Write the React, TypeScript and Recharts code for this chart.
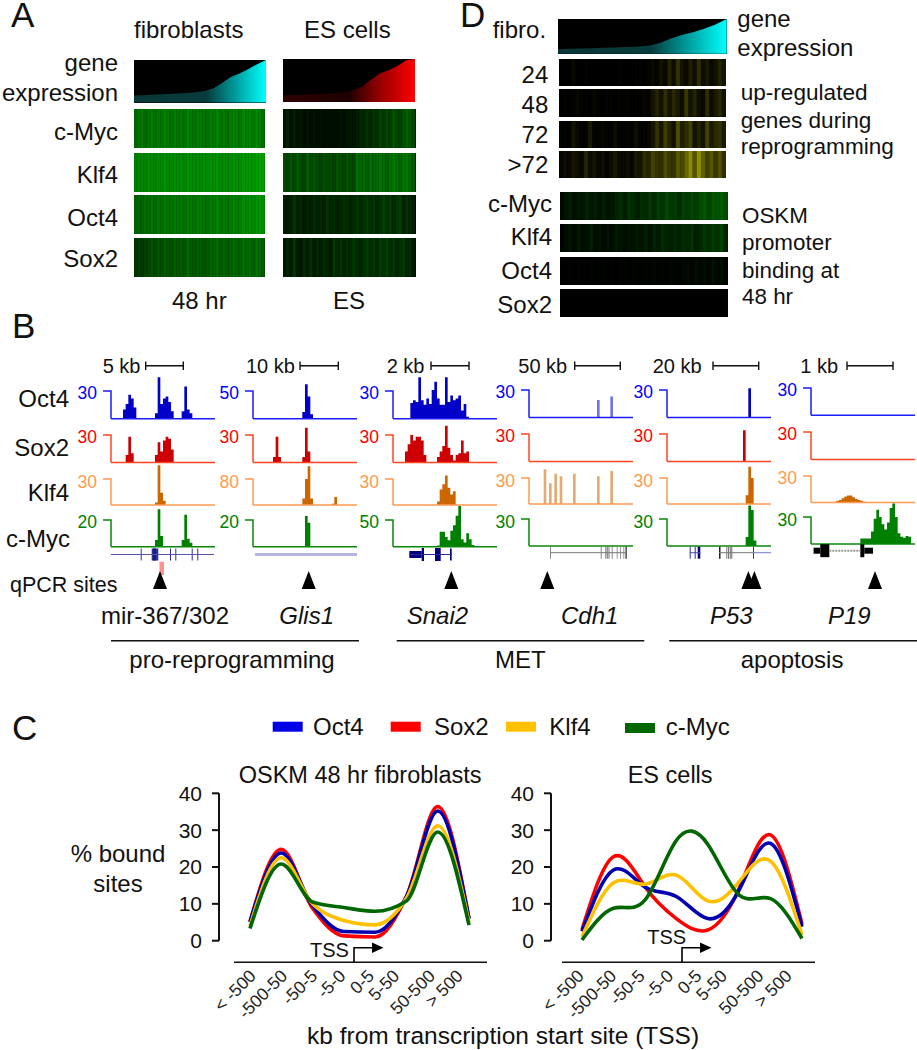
import {
  Area,
  AreaChart,
  Bar,
  BarChart,
  Cell,
  ComposedChart,
  Line,
  LineChart,
  ReferenceArea,
  ReferenceDot,
  ReferenceLine,
  XAxis,
  YAxis,
} from "recharts"

const FONT = "'Liberation Sans', Arial, sans-serif"

// panel C: % bound sites per distance bin
const tssBins = ["< -500", "-500-50", "-50-5", "-5-0", "0-5", "5-50", "50-500", "> 500"]
const fibOct4 = [5, 23.8, 9.5, 2.5, 2.3, 12, 35.2, 6]
const fibSox2 = [5.2, 24.8, 8.8, 1.3, 1, 12, 36.4, 6]
const fibKlf4 = [4, 22.5, 10, 5.5, 4.3, 11.5, 31.2, 5]
const fibMyc = [3.3, 20.8, 10.5, 9, 8, 10.8, 29.5, 4.2]
const esOct4 = [2.5, 19.2, 14.6, 12, 6, 13.8, 26.4, 3.8]
const esSox2 = [3, 22.8, 14.7, 6, 2.9, 14.2, 28.7, 4.5]
const esKlf4 = [1, 15.7, 15.3, 17.8, 10.8, 16, 21.6, 1.5]
const esMyc = [0.2, 8.8, 11, 27.2, 26.2, 12.4, 11.4, 0.6]

// panel B: coverage tracks, 40 bins per locus
const emptyTrack = [0, 0]
const mirOct4 = [0, 0, 0, 0, 0, 10, 16, 26, 22, 12, 0, 0, 0, 0, 0, 0, 0, 6, 45, 16,
  22, 24, 18, 8, 0, 0, 0, 8, 35, 10, 6, 0, 0, 0, 0, 0, 0, 0, 0, 0]
const mirSox2 = [0, 0, 0, 0, 0, 0, 8, 28, 10, 0, 0, 0, 0, 0, 0, 0, 0, 8, 22, 12,
  24, 28, 26, 14, 0, 0, 0, 0, 0, 0, 0, 0, 0, 0, 0, 0, 0, 0, 0, 0]
const mirKlf4 = [0, 0, 0, 0, 0, 0, 0, 0, 0, 0, 0, 0, 0, 0, 0, 0, 0, 3, 46, 14,
  5, 0, 0, 0, 0, 0, 0, 0, 0, 0, 0, 0, 0, 0, 0, 0, 0, 0, 0, 0]
const mirMyc = [0, 0, 0, 0, 0, 0, 0, 0, 0, 0, 0, 0, 0, 0, 0, 0, 0, 5, 28, 8,
  0, 0, 0, 0, 0, 0, 0, 5, 24, 6, 3, 0, 0, 0, 0, 0, 0, 0, 0, 0]
const glisOct4 = [0, 0, 0, 0, 0, 0, 0, 0, 0, 0, 0, 0, 0, 0, 0, 0, 0, 0, 0, 12,
  62, 40, 8, 0, 0, 0, 0, 0, 0, 0, 0, 0, 0, 0, 0, 0, 0, 0, 0, 0]
const glisSox2 = [0, 0, 0, 0, 0, 0, 0, 0, 6, 28, 6, 0, 0, 0, 0, 0, 0, 0, 0, 6,
  38, 12, 0, 0, 0, 0, 0, 0, 0, 0, 0, 0, 0, 0, 0, 0, 0, 0, 0, 0]
const glisKlf4 = [0, 0, 0, 0, 0, 0, 0, 0, 0, 0, 0, 0, 0, 0, 0, 0, 0, 0, 0, 20,
  80, 119, 20, 0, 0, 0, 0, 0, 0, 0, 4, 25, 0, 0, 0, 0, 0, 0, 0, 0]
const glisMyc = [0, 0, 0, 0, 0, 0, 0, 0, 0, 0, 0, 0, 0, 0, 0, 0, 0, 0, 0, 0,
  23, 18, 0, 0, 0, 0, 0, 0, 0, 0, 0, 0, 0, 0, 0, 0, 0, 0, 0, 0]
const snaiOct4 = [0, 0, 0, 0, 0, 0, 0, 17, 20, 18, 45, 20, 15, 22, 16, 31, 40, 22, 15, 15,
  45, 18, 25, 20, 22, 25, 9, 16, 2, 0, 0, 0, 0, 0, 0, 0, 0, 0, 0, 0]
const snaiSox2 = [0, 0, 0, 0, 0, 12, 20, 30, 24, 28, 28, 24, 8, 0, 0, 0, 0, 6, 12, 18,
  40, 16, 8, 2, 8, 10, 24, 10, 12, 0, 0, 0, 0, 0, 0, 0, 0, 0, 0, 0]
const snaiKlf4 = [0, 0, 0, 0, 0, 0, 0, 0, 0, 0, 0, 0, 0, 0, 0, 0, 0, 4, 18, 24,
  34, 20, 12, 16, 0, 0, 0, 0, 0, 0, 0, 0, 0, 0, 0, 0, 0, 0, 0, 0]
const snaiMyc = [0, 0, 0, 0, 0, 0, 0, 0, 0, 0, 0, 0, 0, 0, 0, 0, 0, 2, 28, 28,
  18, 12, 30, 40, 58, 76, 14, 8, 25, 14, 3, 0, 0, 0, 0, 0, 0, 0, 0, 0]
const cdhOct4 = [0, 0, 0, 0, 0, 0, 0, 0, 0, 0, 0, 0, 0, 0, 0, 0, 0, 0, 0, 0,
  0, 0, 0, 0, 0, 0, 19, 0, 0, 0, 0, 23, 0, 0, 0, 0, 0, 0, 0, 0]
const cdhKlf4 = [0, 0, 0, 0, 0, 0, 40, 0, 24, 0, 35, 0, 32, 0, 0, 0, 0, 35, 0, 0,
  0, 0, 0, 0, 0, 0, 32, 0, 0, 0, 0, 38, 0, 0, 0, 0, 0, 0, 0, 0]
const p53Oct4 = [0, 0, 0, 0, 0, 0, 0, 0, 0, 0, 0, 0, 0, 0, 0, 0, 0, 0, 0, 0,
  0, 0, 0, 0, 0, 0, 0, 0, 0, 0, 0, 32, 0, 0, 0, 0, 0, 0, 0, 0]
const p53Sox2 = [0, 0, 0, 0, 0, 0, 0, 0, 0, 0, 0, 0, 0, 0, 0, 0, 0, 0, 0, 0,
  0, 0, 0, 0, 0, 0, 0, 0, 0, 34, 0, 0, 0, 0, 0, 0, 0, 0, 0, 0]
const p53Klf4 = [0, 0, 0, 0, 0, 0, 0, 0, 0, 0, 0, 0, 0, 0, 0, 0, 0, 0, 0, 0,
  0, 0, 0, 0, 0, 0, 0, 0, 0, 0, 10, 43, 30, 0, 0, 0, 0, 0, 0, 0]
const p53Myc = [0, 0, 0, 0, 0, 0, 0, 0, 0, 0, 0, 0, 0, 0, 0, 0, 0, 0, 0, 0,
  0, 0, 0, 0, 0, 0, 0, 0, 0, 0, 10, 45, 40, 6, 0, 0, 0, 0, 0, 0]
const p19Klf4 = [0, 0, 0, 0, 0, 0, 0, 0, 0, 1, 2, 3, 5, 7, 8, 8, 6, 4, 3, 2,
  1, 0, 0, 0, 0, 0, 0, 0, 0, 0, 0, 0, 0, 0, 0, 0, 0, 0, 0, 0]
const p19Myc = [0, 0, 0, 0, 0, 0, 0, 0, 0, 0, 0, 0, 0, 0, 0, 0, 0, 0, 0, 6,
  6, 6, 6, 14, 28, 38, 30, 22, 16, 24, 40, 45, 30, 12, 8, 7, 9, 8, 0, 0]

// panel B: gene models on each locus. exon = [start, end, half height, colour]
const mirExons = [[29.7, 30.7, 6, "#3030a0"], [40.7, 47.3, 6, "#30309a"], [42, 45, 6, "#1a1a80"], [59, 60, 6, "#3030a0"],
  [64.3, 65.3, 6, "#3030a0"], [80.7, 81.7, 6, "#3030a0"], [86.3, 87.3, 6, "#3030a0"]]
const snaiExons = [[16.3, 28.7, 3.5, "#000080"], [28.7, 31, 6.5, "#000080"], [42, 47.7, 6.5, "#000080"], [57, 58.7, 6, "#000080"]]
const cdhExons = [[21, 22, 6, "#888"], [71.7, 72.7, 6, "#888"], [76.3, 77.3, 6, "#777"], [77.8, 78.8, 6, "#777"], [79.5, 80.5, 6, "#777"],
  [82.7, 83.7, 6, "#888"], [87.7, 88.7, 6, "#999"], [91, 92, 6, "#999"], [94.3, 95.3, 6, "#999"], [96.5, 97.7, 6, "#222"]]
const p53Exons = [[22.7, 23.7, 6, "#3030a0"], [27.7, 28.7, 6, "#3030a0"], [30.7, 33.3, 6, "#000080"], [52, 53.5, 6, "#222"],
  [59.3, 60.3, 6, "#777"], [61, 62, 6, "#777"], [62.7, 63.7, 6, "#666"], [64.3, 65.3, 6, "#666"], [86, 87, 6, "#3030a0"]]
const p19Exons = [[2.6, 9.3, 3, "#000"], [9.3, 18.3, 6.5, "#000"], [49.3, 53.3, 6.5, "#000"], [53.3, 62, 3, "#000"]]

// panel A: binding intensity per gene bin, low to high expression
const fibMycHeat = [40, 44, 48, 42, 46, 50, 44, 48, 46, 52, 48, 44, 50, 46, 48, 44, 52, 48, 46, 50,
  48, 46, 44, 50, 48, 52, 46, 50, 44, 48, 52, 50, 46, 54, 50, 52, 48, 54, 50, 44]
const fibKlf4Heat = [50, 52, 54, 52, 56, 54, 52, 56, 54, 58, 54, 52, 56, 54, 56, 52, 58, 56, 54, 56,
  54, 56, 54, 58, 56, 58, 54, 56, 54, 56, 58, 56, 56, 60, 58, 60, 58, 62, 64, 62]
const fibOct4Heat = [38, 42, 40, 44, 42, 46, 42, 48, 44, 50, 46, 44, 48, 46, 48, 44, 50, 48, 46, 50,
  48, 46, 44, 50, 48, 52, 46, 50, 46, 48, 52, 50, 50, 56, 54, 56, 54, 58, 60, 56]
const fibSox2Heat = [20, 24, 22, 26, 28, 32, 28, 34, 30, 36, 34, 30, 38, 34, 36, 32, 42, 36, 34, 38,
  36, 34, 36, 40, 38, 42, 36, 40, 36, 38, 42, 40, 38, 44, 40, 44, 38, 46, 42, 36]
const esMycHeat = [8, 14, 6, 12, 8, 10, 6, 9, 5, 8, 6, 7, 5, 6, 5, 7, 6, 8, 6, 9,
  10, 8, 12, 16, 14, 20, 16, 22, 18, 26, 22, 28, 24, 34, 28, 26, 32, 38, 34, 28]
const esKlf4Heat = [30, 26, 34, 28, 36, 30, 26, 38, 28, 34, 30, 26, 32, 28, 30, 26, 32, 30, 28, 34,
  30, 28, 44, 40, 42, 38, 44, 40, 42, 46, 42, 38, 44, 48, 44, 40, 46, 48, 42, 36]
const esOct4Heat = [12, 10, 14, 22, 12, 16, 10, 14, 12, 18, 14, 16, 12, 20, 14, 18, 14, 16, 20, 18,
  14, 18, 22, 16, 20, 24, 18, 22, 16, 20, 26, 20, 24, 16, 22, 26, 12, 20, 16, 12]
const esSox2Heat = [10, 16, 10, 22, 12, 8, 18, 12, 20, 10, 16, 12, 18, 14, 10, 22, 16, 20, 14, 18,
  16, 22, 18, 14, 20, 24, 18, 22, 16, 24, 20, 26, 18, 22, 16, 20, 24, 14, 18, 10]

// panel D: up-regulated genes (yellow) and promoter binding (green)
const up24Heat = [0, 0, 0, 3, 0, 0, 1, 0, 0, 0, 0, 0, 0, 0, 1, 0, 0, 0, 1, 1,
  0, 2, 4, 2, 7, 3, 14, 5, 20, 8, 4, 12, 6, 18, 5, 10, 4, 7, 14, 8]
const up48Heat = [0, 1, 0, 1, 3, 1, 1, 0, 3, 1, 0, 1, 1, 0, 1, 1, 2, 0, 1, 1,
  3, 2, 8, 14, 7, 18, 8, 16, 10, 5, 22, 8, 14, 6, 4, 18, 5, 10, 16, 7]
const up72Heat = [1, 1, 1, 8, 3, 1, 1, 10, 2, 1, 3, 1, 1, 5, 1, 1, 2, 1, 6, 1,
  2, 3, 8, 20, 9, 24, 14, 7, 30, 12, 18, 26, 8, 14, 7, 26, 10, 16, 20, 10]
const upLateHeat = [2, 5, 3, 9, 6, 3, 15, 5, 8, 3, 6, 2, 5, 10, 4, 3, 6, 3, 10, 8,
  18, 14, 26, 20, 18, 30, 22, 20, 34, 28, 40, 54, 32, 56, 38, 26, 34, 22, 32, 18]
const dMycHeat = [4, 8, 12, 6, 10, 8, 14, 8, 12, 6, 12, 8, 10, 14, 18, 12, 20, 16, 12, 18,
  16, 22, 16, 24, 20, 28, 22, 24, 18, 26, 22, 28, 24, 30, 34, 26, 34, 32, 36, 30]
const dKlf4Heat = [2, 5, 8, 4, 10, 5, 7, 12, 5, 8, 4, 7, 5, 10, 8, 5, 8, 7, 10, 8,
  12, 8, 14, 10, 17, 14, 12, 16, 12, 18, 14, 20, 12, 16, 22, 18, 24, 20, 26, 14]
const dOct4Heat = [0, 0, 1, 0, 1, 0, 0, 1, 0, 1, 1, 0, 1, 0, 2, 1, 0, 2, 1, 1,
  2, 1, 3, 1, 2, 1, 3, 2, 1, 3, 4, 2, 6, 3, 5, 2, 7, 3, 6, 1]
const dSox2Heat = [0, 0, 0, 0, 0, 0, 0, 0, 0, 0, 0, 0, 0, 0, 0, 0, 0, 0, 0, 0,
  0, 0, 0, 0, 0, 0, 0, 0, 0, 0, 0, 0, 0, 0, 0, 0, 0, 0, 0, 1]

// sorted expression, % of the strip height
const fibExpression = [16, 17, 18, 19, 20, 21, 22, 24, 27, 33, 46, 60, 68, 79, 90, 100]
const esExpression = [15, 16, 17, 18, 19, 20, 21, 23, 28, 36, 52, 66, 74, 84, 97, 100]
const dExpression = [13, 14, 15, 16, 17, 18, 19, 20, 23, 30, 43, 54, 62, 72, 84, 100]

const TRACK_BLUE = { line: "#1c1cff", fill: "#0000c8", text: "#0000ff" }
const TRACK_RED = { line: "#ff4522", fill: "#cc0000", text: "#ff0000" }
const TRACK_ORANGE = { line: "#ff9a50", fill: "#cc6600", text: "#ff9a4d" }
const TRACK_GREEN = { line: "#0a860a", fill: "#008000", text: "#008000" }

function Abs({ left, top, children, style }: any) {
  return <div style={{ position: "absolute", left, top, ...style }}>{children}</div>
}

function Heat({ x, y, w, h, values, tone }: any) {
  const data = values.map((v: number, i: number) => ({ bin: i, level: v, full: 1 }))
  const colour = (v: number) => {
    const c = Math.round(v * 2.55)
    return tone === "yellow" ? `rgb(${c},${c},0)` : `rgb(0,${c},0)`
  }
  return (
    <Abs left={x} top={y} style={{ background: "#000", filter: "blur(0.6px)" }}>
      <BarChart width={w} height={h} data={data} margin={{ top: 0, right: 0, bottom: 0, left: 0 }} barCategoryGap={0}>
        <XAxis dataKey="bin" hide />
        <YAxis domain={[0, 1]} hide />
        <Bar dataKey="full" isAnimationActive={false}>
          {data.map((d: any) => (
            <Cell key={d.bin} fill={colour(d.level)} stroke={colour(d.level)} strokeWidth={0.5} />
          ))}
        </Bar>
      </BarChart>
    </Abs>
  )
}

function Expression({ x, y, w, h, values, id, stops }: any) {
  const data = values.map((v: number, i: number) => ({ rank: i, value: v }))
  return (
    <Abs left={x} top={y} style={{ background: "#000" }}>
      <AreaChart width={w} height={h} data={data} margin={{ top: 0, right: 0, bottom: 0, left: 0 }}>
        <defs>
          <linearGradient id={id} x1="0" y1="0" x2="1" y2="0">
            {stops.map((s: any) => (
              <stop key={s[0]} offset={s[0]} stopColor={s[1]} />
            ))}
          </linearGradient>
        </defs>
        <XAxis dataKey="rank" hide />
        <YAxis domain={[0, 100]} hide />
        <Area dataKey="value" type="linear" stroke="none" fill={`url(#${id})`} fillOpacity={1} dot={false} activeDot={false} isAnimationActive={false} />
      </AreaChart>
    </Abs>
  )
}

const HEADROOM = 18
const AXIS_W = 46

function Track({ x, top, base, max, values, tone, width = 104, faint }: any) {
  const h = base - top
  const data = values.map((v: number, i: number) => ({ bin: i, value: v }))
  const drawTick = (p: any) => (
    <g>
      <text x={AXIS_W - 14} y={p.y + 8.5} textAnchor="end" fontFamily={FONT} fontSize={17.5} fill={tone.text}>{p.payload.value}</text>
      <path d={`M${AXIS_W - 8},${p.y}H${AXIS_W}V${p.y + h}`} fill="none" stroke={tone.line} strokeWidth={1.5} />
    </g>
  )
  return (
    <Abs left={x - AXIS_W} top={top - HEADROOM}>
      <AreaChart width={AXIS_W + width + 1} height={h + HEADROOM + 2} data={data} margin={{ top: 0, right: 1, bottom: 2, left: 0 }}>
        <XAxis dataKey="bin" hide />
        <YAxis width={AXIS_W} domain={[0, (max * (h + HEADROOM)) / h]} ticks={[max]} interval={0} axisLine={false} tickLine={false} tick={drawTick} />
        <Area dataKey="value" type="step" stroke="none" fill={tone.fill} fillOpacity={faint ? 0.55 : 1} dot={false} activeDot={false} isAnimationActive={false} />
        <ReferenceLine y={0} stroke={tone.line} strokeWidth={1.5} />
      </AreaChart>
    </Abs>
  )
}

const GENE_TOP = 540
const geneFrame = [{ x: 0 }, { x: 105 }]

function GeneModel({ x, mid, backbones, exons, sites, extra }: any) {
  const triangle = (p: any) => (
    <path d={`M${p.cx - 7},${p.cy + 9}L${p.cx},${p.cy - 9}L${p.cx + 7},${p.cy + 9}Z`} fill="#000" />
  )
  return (
    <Abs left={x} top={GENE_TOP}>
      <ComposedChart width={105} height={54} data={geneFrame} margin={{ top: 0, right: 0, bottom: 0, left: 0 }}>
        <XAxis type="number" dataKey="x" domain={[0, 105]} hide allowDataOverflow />
        <YAxis type="number" domain={[0, 54]} reversed hide allowDataOverflow />
        {backbones.map((b: any, i: number) => (
          <ReferenceLine key={i} segment={[{ x: b[0], y: mid }, { x: b[1], y: mid }]} stroke={b[2]} strokeWidth={b[3]} strokeDasharray={b[4]} />
        ))}
        {exons.map((e: any, i: number) => (
          <ReferenceArea key={i} x1={e[0]} x2={e[1]} y1={mid - e[2]} y2={mid + e[2]} fill={e[3]} fillOpacity={1} stroke="none" />
        ))}
        {extra}
        {sites.map((s: number) => (
          <ReferenceDot key={s} x={s} y={40} r={7} shape={triangle} />
        ))}
      </ComposedChart>
    </Abs>
  )
}

const bound = (a: number[], b: number[], c: number[], d: number[]) =>
  tssBins.map((bin, i) => ({ bin, oct4: a[i], sox2: b[i], klf4: c[i], myc: d[i] }))

function Profile({ left, padL, padR, data, nudges, curve }: any) {
  return (
    <Abs left={left} top={770}>
      <LineChart width={330} height={270} data={data} margin={{ top: 23.3, right: 0, bottom: 0, left: 0 }}>
        <XAxis dataKey="bin" height={99.3} interval={0} axisLine={false} tickLine={false} padding={{ left: padL, right: padR }} tick={(p: any) => (
          <text
            transform={`translate(${p.x + nudges[p.index]},${207}) rotate(-45)`}
            textAnchor="end"
            fontFamily={FONT}
            fontSize={17.5}
            fill="#222"
          >
            {p.payload.value}
          </text>
        )} />
        <YAxis width={59} domain={[0, 40]} ticks={[0, 10, 20, 30, 40]} tickSize={7} tickMargin={10} interval={0}
          axisLine={{ stroke: "#111", strokeWidth: 2 }} tickLine={{ stroke: "#111", strokeWidth: 2 }}
          tick={{ fontFamily: FONT, fontSize: 21, fill: "#111" }} />
        <Line dataKey="sox2" type={curve} stroke="#ff0000" strokeWidth={3.6} dot={false} isAnimationActive={false} />
        <Line dataKey="oct4" type={curve} stroke="#0000b0" strokeWidth={3.6} dot={false} isAnimationActive={false} />
        <Line dataKey="klf4" type={curve} stroke="#ffc000" strokeWidth={3.6} dot={false} isAnimationActive={false} />
        <Line dataKey="myc" type={curve} stroke="#006600" strokeWidth={3.6} dot={false} isAnimationActive={false} />
      </LineChart>
    </Abs>
  )
}

function T({ x, y, size = 24, anchor = "start", italic, fill = "#111", children }: any) {
  return (
    <text x={x} y={y} fontSize={size} textAnchor={anchor} fontStyle={italic ? "italic" : "normal"} fill={fill} fontFamily={FONT}>
      {children}
    </text>
  )
}

function ScaleBar({ x1, x2 }: any) {
  return <path d={`M${x1},361.5V370M${x1},365.7H${x2}M${x2},361.5V370`} stroke="#111" strokeWidth={1.4} fill="none" />
}

function Tss({ x, text, textX, textY }: any) {
  return (
    <g>
      <T x={textX} y={textY} size={20}>{text}</T>
      <path d={`M${x},962V947.7H${x + 18}`} fill="none" stroke="#000" strokeWidth={1.6} />
      <path d={`M${x + 18},942.5L${x + 29.5},947.7L${x + 18},953Z`} fill="#000" />
    </g>
  )
}

const fibStops = [[0, "#0a3636"], [0.55, "#083c3c"], [0.75, "#009494"], [1, "#00ffff"]]
const esStops = [[0, "#300000"], [0.5, "#1c0000"], [0.72, "#900000"], [1, "#ff0000"]]
const ROWS = [[109.3, 39], [152.7, 39], [195.3, 39], [238, 39.3]]
const UP_ROWS = [[58.7, 27.3], [89.3, 27.4], [120.7, 27], [151.3, 27]]
const BIND_ROWS = [[191.7, 28], [224, 28.3], [256.7, 28], [289.3, 28]]

export default function App() {
  return (
    <div style={{ position: "absolute", left: 0, top: 0, width: 917, height: 1050, background: "#fff", overflow: "hidden" }}>
      {/* A */}
      <Expression x={134.3} y={60.3} w={132} h={42.4} values={fibExpression} id="fibGrad" stops={fibStops} />
      <Expression x={283} y={59.3} w={132} h={43} values={esExpression} id="esGrad" stops={esStops} />
      {[fibMycHeat, fibKlf4Heat, fibOct4Heat, fibSox2Heat].map((v, i) => (
        <Heat key={i} x={133.7} y={ROWS[i][0]} w={131} h={ROWS[i][1]} values={v} />
      ))}
      {[esMycHeat, esKlf4Heat, esOct4Heat, esSox2Heat].map((v, i) => (
        <Heat key={i} x={283.3} y={ROWS[i][0]} w={132.4} h={ROWS[i][1]} values={v} />
      ))}

      {/* D */}
      <Expression x={558.3} y={19.3} w={168.7} h={34.7} values={dExpression} id="dGrad" stops={fibStops} />
      {[up24Heat, up48Heat, up72Heat, upLateHeat].map((v, i) => (
        <Heat key={i} x={559} y={UP_ROWS[i][0]} w={167.3} h={UP_ROWS[i][1]} values={v} tone="yellow" />
      ))}
      {[dMycHeat, dKlf4Heat, dOct4Heat, dSox2Heat].map((v, i) => (
        <Heat key={i} x={560.3} y={BIND_ROWS[i][0]} w={168} h={BIND_ROWS[i][1]} values={v} />
      ))}

      {/* B */}
      <Track x={111} top={391} base={418.7} max={30} values={mirOct4} tone={TRACK_BLUE} />
      <Track x={111} top={435.3} base={462.7} max={30} values={mirSox2} tone={TRACK_RED} />
      <Track x={111} top={479.3} base={505.3} max={30} values={mirKlf4} tone={TRACK_ORANGE} />
      <Track x={111} top={520.3} base={547} max={20} values={mirMyc} tone={TRACK_GREEN} />

      <Track x={253.3} top={391} base={418.7} max={50} values={glisOct4} tone={TRACK_BLUE} />
      <Track x={253.3} top={435.3} base={462.7} max={30} values={glisSox2} tone={TRACK_RED} />
      <Track x={253.3} top={479.3} base={505.3} max={80} values={glisKlf4} tone={TRACK_ORANGE} />
      <Track x={253.3} top={520.3} base={547} max={20} values={glisMyc} tone={TRACK_GREEN} />

      <Track x={393} top={391} base={418.7} max={30} values={snaiOct4} tone={TRACK_BLUE} />
      <Track x={393} top={435.3} base={462.7} max={30} values={snaiSox2} tone={TRACK_RED} />
      <Track x={393} top={479.3} base={505.3} max={30} values={snaiKlf4} tone={TRACK_ORANGE} />
      <Track x={393} top={520.3} base={547} max={50} values={snaiMyc} tone={TRACK_GREEN} />

      <Track x={529} top={389.7} base={417.3} max={30} values={cdhOct4} tone={TRACK_BLUE} faint />
      <Track x={529} top={433.7} base={461.3} max={30} values={emptyTrack} tone={TRACK_RED} />
      <Track x={529} top={478} base={504} max={30} values={cdhKlf4} tone={TRACK_ORANGE} faint />
      <Track x={529} top={518.7} base={545.7} max={30} values={emptyTrack} tone={TRACK_GREEN} />

      <Track x={667.3} top={389.7} base={417.3} max={30} values={p53Oct4} tone={TRACK_BLUE} />
      <Track x={667.3} top={433.7} base={461.3} max={30} values={p53Sox2} tone={TRACK_RED} />
      <Track x={667.3} top={478} base={504} max={30} values={p53Klf4} tone={TRACK_ORANGE} />
      <Track x={667.3} top={518.7} base={545.7} max={30} values={p53Myc} tone={TRACK_GREEN} />

      <Track x={810.7} top={388} base={415.3} max={30} values={emptyTrack} tone={TRACK_BLUE} />
      <Track x={810.7} top={432.3} base={459.7} max={30} values={emptyTrack} tone={TRACK_RED} />
      <Track x={810.7} top={475.7} base={502.3} max={30} values={p19Klf4} tone={TRACK_ORANGE} />
      <Track x={810.7} top={517} base={544} max={30} values={p19Myc} tone={TRACK_GREEN} />

      <GeneModel x={111} mid={14.5} backbones={[[0, 103, "#5555aa", 1]]} exons={mirExons} sites={[49]}
        extra={<ReferenceArea x1={48.5} x2={53} y1={21.7} y2={35} fill="#ff9090" fillOpacity={1} stroke="none" />} />
      <GeneModel x={253.3} mid={14.5} backbones={[[2, 104, "#b4b4e4", 3]]} exons={[]} sites={[55.7]} />
      <GeneModel x={393} mid={14.5} backbones={[[16.3, 58.7, "#2a2a90", 1]]} exons={snaiExons} sites={[58.3]} />
      <GeneModel x={529} mid={12.7} backbones={[[21, 97, "#777", 1]]} exons={cdhExons} sites={[18.3]} />
      <GeneModel x={667.3} mid={12.7} backbones={[[22.7, 33.3, "#4a4ab0", 1], [52, 86, "#777", 1], [86, 104, "#7a7ad0", 1]]} exons={p53Exons} sites={[81.4, 87.4]} />
      <GeneModel x={810.7} mid={10.7} backbones={[[18.3, 49.3, "#999", 2, "2 1"]]} exons={p19Exons} sites={[64]} />

      {/* C */}
      <Profile left={160} padL={31} padR={21} curve="monotone" data={bound(fibOct4, fibSox2, fibKlf4, fibMyc)} nudges={[7, 7, 5.7, 2.7, 0, -6, -1.7, -5]} />
      <Profile left={492} padL={31} padR={20} curve="natural" data={bound(esOct4, esSox2, esKlf4, esMyc)} nudges={[3, 4, 1, -2, -5, -11, -6, -9]} />

      <svg width={917} height={1050} style={{ position: "absolute", left: 0, top: 0, pointerEvents: "none" }}>
        <T x={11} y={27} size={35}>A</T>
        <T x={12} y={338.3} size={35}>B</T>
        <T x={12} y={740} size={35}>C</T>
        <T x={460} y={27} size={35}>D</T>

        <T x={134} y={37.7}>fibroblasts</T>
        <T x={304} y={37.7}>ES cells</T>
        <T x={118} y={71} anchor="end">gene</T>
        <T x={118} y={101} anchor="end">expression</T>
        <T x={118} y={140} anchor="end">c-Myc</T>
        <T x={118} y={182.7} anchor="end">Klf4</T>
        <T x={118} y={225.7} anchor="end">Oct4</T>
        <T x={118} y={267.3} anchor="end">Sox2</T>
        <T x={172} y={308.7}>48 hr</T>
        <T x={333} y={308.7}>ES</T>

        <T x={492.7} y={37.7}>fibro.</T>
        <T x={737.3} y={26.7}>gene</T>
        <T x={737.3} y={55.7}>expression</T>
        <T x={548.3} y={83.3} anchor="end">24</T>
        <T x={548.3} y={113.3} anchor="end">48</T>
        <T x={548.3} y={143.3} anchor="end">72</T>
        <T x={548.3} y={172.7} anchor="end">&gt;72</T>
        <T x={740.7} y={100} size={22.6}>up-regulated</T>
        <T x={740.7} y={127.7} size={22.6}>genes during</T>
        <T x={740.7} y={154.3} size={22.6}>reprogramming</T>
        <T x={552} y={211.7} anchor="end">c-Myc</T>
        <T x={552} y={245.3} anchor="end">Klf4</T>
        <T x={552} y={279.3} anchor="end">Oct4</T>
        <T x={552} y={313.3} anchor="end">Sox2</T>
        <T x={742} y={222.7} size={22.4}>OSKM</T>
        <T x={742} y={250} size={22.4}>promoter</T>
        <T x={742} y={277.7} size={22.4}>binding at</T>
        <T x={742} y={304.3} size={22.4}>48 hr</T>

        <T x={102.7} y={373.3} size={20}>5 kb</T>
        <ScaleBar x1={145.7} x2={183.3} />
        <T x={246} y={373.3} size={20}>10 kb</T>
        <ScaleBar x1={300} x2={338.3} />
        <T x={386.7} y={373.3} size={20}>2 kb</T>
        <ScaleBar x1={431} x2={469} />
        <T x={518.3} y={373.3} size={20}>50 kb</T>
        <ScaleBar x1={574.7} x2={620.3} />
        <T x={652.7} y={373.3} size={20}>20 kb</T>
        <ScaleBar x1={713} x2={758.7} />
        <T x={800.3} y={373.3} size={20}>1 kb</T>
        <ScaleBar x1={847} x2={893} />

        <T x={69} y={407.3} anchor="end">Oct4</T>
        <T x={69} y={455.7} anchor="end">Sox2</T>
        <T x={69} y={501} anchor="end">Klf4</T>
        <T x={70} y={546.7} anchor="end">c-Myc</T>
        <T x={10} y={592.3} size={21.5}>qPCR sites</T>

        <T x={101} y={624}>mir-367/302</T>
        <T x={279.3} y={624} italic>Glis1</T>
        <T x={406.7} y={624} italic>Snai2</T>
        <T x={561} y={624} italic>Cdh1</T>
        <T x={710} y={624} italic>P53</T>
        <T x={828} y={624} italic>P19</T>
        <path d="M111,640.7H359M396.7,640.7H644.3M669.3,640.7H917" stroke="#111" strokeWidth={1.6} fill="none" />
        <T x={129.3} y={668}>pro-reprogramming</T>
        <T x={495} y={668}>MET</T>
        <T x={740.7} y={668}>apoptosis</T>

        <rect x={272.7} y={721.7} width={30} height={10} fill="#0000e6" />
        <T x={313} y={735}>Oct4</T>
        <rect x={390.7} y={721.7} width={30} height={10} fill="#ff0000" />
        <T x={434} y={735}>Sox2</T>
        <rect x={506} y={721.7} width={30} height={10} fill="#ffc000" />
        <T x={549.3} y={735}>Klf4</T>
        <rect x={625} y={723} width={30} height={10} fill="#006600" />
        <T x={665.7} y={735}>c-Myc</T>

        <T x={238.7} y={783.3} size={23.5}>OSKM 48 hr fibroblasts</T>
        <T x={627.7} y={783.3} size={23.5}>ES cells</T>
        <T x={118} y={862.3} anchor="middle">% bound</T>
        <T x={118} y={891.7} anchor="middle">sites</T>
        <T x={307} y={1044} size={24.5}>kb from transcription start site (TSS)</T>

        <path d="M234,962.3H487M562,962.3H815" stroke="#111" strokeWidth={1.6} fill="none" />
        <Tss x={354} text="TSS" textX={310} textY={957.3} />
        <Tss x={682} text="TSS" textX={647.3} textY={944.3} />
      </svg>
    </div>
  )
}
